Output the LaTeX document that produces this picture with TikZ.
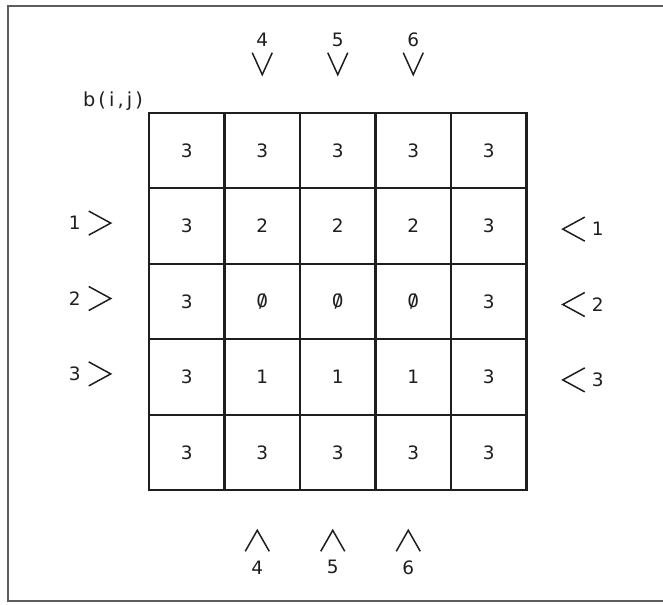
\documentclass[tikz,border=0pt]{standalone}
\usepackage{fontspec}
\setmainfont{DejaVu Sans}
\usetikzlibrary{positioning,calc}
\definecolor{ink}{HTML}{1E1E1E}
\definecolor{framegrey}{HTML}{5C5C5C}
\newcommand{\slzero}{\ooalign{0\cr\hidewidth/\hidewidth}}
\tikzset{
  cellbox/.style={draw=ink,line width=1.2pt,minimum size=1.51cm,inner sep=0pt,
                  text=ink,font=\fontsize{10.5}{12}\selectfont},
  lbl/.style={text=ink,inner sep=1pt,font=\fontsize{10.5}{12}\selectfont},
  chev/.style={draw=ink,line width=0.85pt},
}

\begin{document}
\begin{tikzpicture}[x=0.02cm,y=-0.02cm]
  \useasboundingbox (0,0) rectangle (663,605);
  % ---------------------------------------------------------------- frame (right side off the page)
  \draw[draw=framegrey,line width=0.9pt] (663,6) -- (8,6) -- (8,601) -- (663,601);

  % ---------------------------------------------------------------- the table b(i,j)
  \foreach \vals [count=\r] in {{3,3,3,3,3},{3,2,2,2,3},{3,\slzero,\slzero,\slzero,3},{3,1,1,1,3},{3,3,3,3,3}}
    \foreach \v [count=\c] in \vals
      \node[cellbox] (c\r\c) at ({149+75.5*(\c-0.5)},{113+75.4*(\r-0.5)}) {\v};
  \node[lbl,anchor=base east,font=\fontsize{11}{12}\selectfont\addfontfeature{LetterSpace=16}]
       (bij) at ($(c11.north west)+(-3,-5)$) {b(i,j)};

  % ---------------------------------------------------------------- rows: left and right
  \foreach \r [count=\k] in {2,3,4} {
    \node[lbl] (lft\k) at ($(c\r1.center)+(-112,-3)$) {\k};
    \draw[chev] ($(lft\k)+(14,-12)$) -- ($(lft\k)+(36,0)$) -- ($(lft\k)+(14,12)$);
    \node[lbl] (rgt\k) at ($(c\r5.center)+(109,3)$) {\k};
    \draw[chev] ($(rgt\k)+(-13,-12)$) -- ($(rgt\k)+(-35,0)$) -- ($(rgt\k)+(-13,12)$);
  }

  % ---------------------------------------------------------------- columns: top and bottom
  \foreach \c [count=\k from 4] in {2,3,4} {
    \node[lbl] (top\k) at ($(c1\c.center)+(0,-111)$) {\k};
    \draw[chev] ($(top\k)+(-10,13)$) -- ($(top\k)+(0,35)$) -- ($(top\k)+(10,13)$);
    \node[lbl] (bot\k) at ($(c5\c.center)+(-5,115)$) {\k};
    \draw[chev] ($(bot\k)+(-12,-16)$) -- ($(bot\k)+(0,-37)$) -- ($(bot\k)+(12,-16)$);
  }
\end{tikzpicture}
\end{document}
